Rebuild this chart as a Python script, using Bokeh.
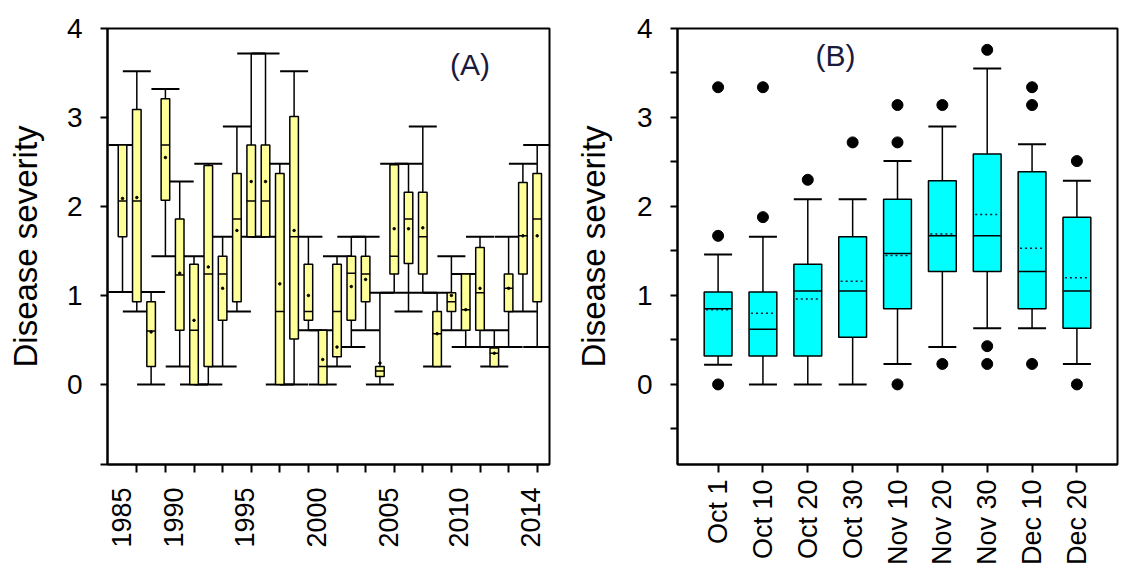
import math
from bokeh.plotting import figure
from bokeh.models import FixedTicker, Label, Range1d, FactorRange, ColumnDataSource
from bokeh.layouts import row
from bokeh.embed import file_html
from bokeh.resources import INLINE

FONT = "Liberation Sans"

# ---------------- Panel A: yearly disease severity ----------------
years = list(range(1985, 2015))
a_low  = [1.04, 0.82, 0.00, 1.44, 0.20, 0.00, 0.00, 0.20, 0.82, 1.66,
          1.66, 0.00, 0.00, 0.61, 0.00, 0.20, 0.42, 0.61, 0.00, 1.03,
          0.82, 1.03, 0.20, 0.61, 0.42, 0.42, 0.20, 0.42, 0.82, 0.42]
a_q1   = [1.66, 0.93, 0.20, 2.07, 0.61, 0.00, 0.20, 0.72, 0.93, 1.66,
          1.66, 0.00, 0.51, 0.72, 0.00, 0.31, 0.72, 0.93, 0.09, 1.24,
          1.36, 1.24, 0.20, 0.82, 0.61, 0.61, 0.20, 0.82, 1.24, 0.93]
a_med  = [2.06, 2.06, 0.60, 2.69, 1.23, 0.61, 1.24, 1.24, 1.86, 2.06,
          2.06, 0.82, 1.66, 0.82, 0.20, 0.82, 1.25, 1.24, 0.15, 1.44,
          1.86, 1.66, 0.57, 0.93, 0.84, 1.03, 0.35, 1.08, 1.67, 1.86]
a_mean = [2.09, 2.10, 0.59, 2.55, 1.25, 0.72, 1.32, 1.08, 1.73, 2.28,
          2.28, 1.13, 1.73, 1.00, 0.28, 0.42, 1.10, 1.18, 0.24, 1.75,
          1.75, 1.76, 0.57, 1.00, 0.84, 1.08, 0.35, 1.08, 1.67, 1.67]
a_q3   = [2.69, 3.09, 0.93, 3.21, 1.86, 1.35, 2.46, 1.44, 2.37, 2.69,
          2.69, 2.37, 3.01, 1.35, 0.61, 1.35, 1.44, 1.44, 0.20, 2.47,
          2.16, 2.16, 0.82, 1.03, 1.24, 1.54, 0.41, 1.24, 2.27, 2.37]
a_high = [2.69, 3.52, 1.04, 3.32, 2.28, 1.44, 2.48, 1.66, 2.90, 3.72,
          3.72, 2.48, 3.52, 1.66, 0.61, 1.44, 1.66, 1.66, 1.03, 2.48,
          2.48, 2.90, 1.03, 1.44, 1.24, 1.66, 0.61, 1.66, 2.48, 2.69]
year_tick_labels = ["1985", "1990", "1995", "2000", "2005", "2010", "2014"]
year_tick_pos = [1984.9, 1988.6, 1993.5, 1998.6, 2003.6, 2008.5, 2013.5]
year_minor_ticks = list(range(1986, 2015, 2))

# ---------------- Panel B: severity by sowing date ----------------
dates = ["Oct 1", "Oct 10", "Oct 20", "Oct 30", "Nov 10",
         "Nov 20", "Nov 30", "Dec 10", "Dec 20"]
b_low  = [0.22, 0.00, 0.00, 0.00, 0.23, 0.42, 0.63, 0.63, 0.23]
b_q1   = [0.32, 0.32, 0.32, 0.53, 0.85, 1.27, 1.27, 0.85, 0.63]
b_med  = [0.85, 0.62, 1.05, 1.05, 1.47, 1.67, 1.67, 1.27, 1.05]
b_mean = [0.84, 0.80, 0.96, 1.16, 1.45, 1.69, 1.91, 1.53, 1.20]
b_q3   = [1.04, 1.04, 1.35, 1.66, 2.08, 2.29, 2.59, 2.39, 1.88]
b_high = [1.46, 1.66, 2.08, 2.08, 2.51, 2.90, 3.55, 2.70, 2.29]
out_dates = ["Oct 1", "Oct 1", "Oct 1", "Oct 10", "Oct 10", "Oct 20",
             "Oct 30", "Nov 10", "Nov 10", "Nov 10", "Nov 20", "Nov 20",
             "Nov 30", "Nov 30", "Nov 30", "Dec 10", "Dec 10", "Dec 10",
             "Dec 20", "Dec 20"]
out_vals = [0.00, 1.67, 3.34, 1.88, 3.34, 2.30,
            2.72, 0.00, 2.72, 3.14, 0.23, 3.14,
            0.23, 0.43, 3.76, 0.23, 3.14, 3.34,
            0.00, 2.51]

y_major = [0, 1, 2, 3, 4]
y_minor_b = [-0.5, 0.5, 1.5, 2.5, 3.5]
Y_START, Y_END = -0.9, 4.0

H = 584
TOP, BOTTOM = 28, 120


def style(p):
    p.xgrid.visible = False
    p.ygrid.visible = False
    p.outline_line_color = "black"
    p.outline_line_width = 2
    p.outline_line_alpha = 1.0
    p.background_fill_color = "white"
    p.border_fill_color = "white"
    for ax in (p.xaxis[0], p.yaxis[0]):
        ax.axis_line_width = 2
        ax.axis_line_color = "black"
        ax.major_tick_line_width = 2
        ax.minor_tick_line_width = 2
        ax.major_tick_line_color = "black"
        ax.minor_tick_line_color = "black"
        ax.major_tick_in = 0
        ax.minor_tick_in = 0
        ax.major_label_text_font = FONT
        ax.major_label_text_color = "black"
        ax.axis_label_text_font = FONT
        ax.axis_label_text_font_style = "normal"
        ax.axis_label_text_color = "black"
    yax = p.yaxis[0]
    yax.major_tick_out = 7
    yax.minor_tick_out = 7
    yax.major_label_text_font_size = "28px"
    yax.major_label_standoff = 18
    yax.axis_label = "Disease severity"
    yax.axis_label_text_font_size = "33px"


# ---------- figure A ----------
pa = figure(width=555, height=H,
            x_range=Range1d(1983.95, 2014.86), y_range=Range1d(Y_START, Y_END),
            output_backend="svg", toolbar_location=None,
            min_border_left=107, min_border_right=6,
            min_border_top=TOP, min_border_bottom=BOTTOM)
style(pa)
pa.yaxis[0].ticker = FixedTicker(ticks=y_major, minor_ticks=[Y_START])
pa.yaxis[0].axis_label_standoff = 20
xa = pa.xaxis[0]
xa.ticker = FixedTicker(ticks=year_tick_pos, minor_ticks=year_minor_ticks)
xa.major_label_overrides = {pos: lab for pos, lab in zip(year_tick_pos, year_tick_labels)}
xa.major_tick_out = 0
xa.minor_tick_out = 8
xa.major_label_standoff = 15
xa.major_label_orientation = math.pi / 2
xa.major_label_text_font_size = "27px"

src_a = ColumnDataSource(dict(x=years, lo=a_low, q1=a_q1, med=a_med,
                              mean=a_mean, q3=a_q3, hi=a_high))
pa.segment(x0="x", y0="q3", x1="x", y1="hi", source=src_a,
           line_color="black", line_width=1.5)
pa.segment(x0="x", y0="q1", x1="x", y1="lo", source=src_a,
           line_color="black", line_width=1.5)
pa.scatter(x="x", y="hi", marker="dash", size=28, source=src_a,
           line_color="black", line_width=2)
pa.scatter(x="x", y="lo", marker="dash", size=28, source=src_a,
           line_color="black", line_width=2)
pa.vbar(x="x", width=0.6, bottom="q1", top="q3", source=src_a,
        fill_color="#FFFF99", line_color="black", line_width=1.5)
pa.scatter(x="x", y="med", marker="dash", size=9, source=src_a,
           line_color="black", line_width=1.5)
pa.scatter(x="x", y="mean", marker="circle", size=2.5, source=src_a,
           fill_color="black", line_color="black")
pa.add_layout(Label(x=2009.3, y=3.6, text="(A)", text_align="center",
                    text_baseline="middle", text_font=FONT,
                    text_font_size="30px", text_color="#1a1a3a"))

# ---------- figure B ----------
pb = figure(width=567, height=H,
            x_range=FactorRange(factors=dates, range_padding=0.09),
            y_range=Range1d(Y_START, Y_END),
            output_backend="svg", toolbar_location=None,
            min_border_left=122, min_border_right=5,
            min_border_top=TOP, min_border_bottom=BOTTOM)
style(pb)
pb.yaxis[0].ticker = FixedTicker(ticks=y_major, minor_ticks=y_minor_b)
pb.yaxis[0].axis_label_standoff = 22
xb = pb.xaxis[0]
xb.major_tick_out = 8
xb.major_label_standoff = 7
xb.major_label_orientation = math.pi / 2
xb.major_label_text_font_size = "27px"

src_b = ColumnDataSource(dict(x=dates, lo=b_low, q1=b_q1, med=b_med,
                              mean=b_mean, q3=b_q3, hi=b_high))
pb.segment(x0="x", y0="q3", x1="x", y1="hi", source=src_b,
           line_color="black", line_width=1.5)
pb.segment(x0="x", y0="q1", x1="x", y1="lo", source=src_b,
           line_color="black", line_width=1.5)
pb.scatter(x="x", y="hi", marker="dash", size=28, source=src_b,
           line_color="black", line_width=2)
pb.scatter(x="x", y="lo", marker="dash", size=28, source=src_b,
           line_color="black", line_width=2)
pb.vbar(x="x", width=0.62, bottom="q1", top="q3", source=src_b,
        fill_color="#00FFFF", line_color="black", line_width=1.5)
pb.scatter(x="x", y="med", marker="dash", size=27, source=src_b,
           line_color="black", line_width=1.5)
pb.scatter(x="x", y="mean", marker="dash", size=24, source=src_b,
           line_color="#102030", line_width=1.5, line_dash="2 3")
pb.scatter(x=out_dates, y=out_vals, marker="circle", size=11,
           fill_color="black", line_color="black")
pb.add_layout(Label(x=3.12, y=3.7, text="(B)", text_align="center",
                    text_baseline="middle", text_font=FONT,
                    text_font_size="30px", text_color="#1a1a3a"))

layout = row(pa, pb)
open("out.html", "w").write(file_html(layout, INLINE))
